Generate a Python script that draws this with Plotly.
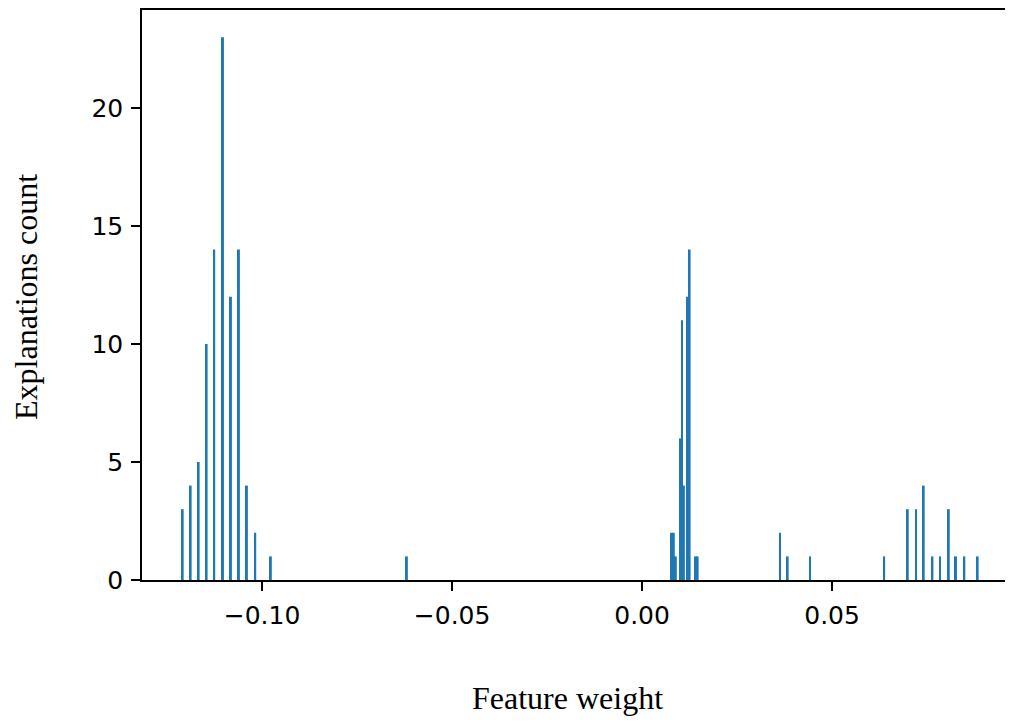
import plotly.graph_objects as go

# Histogram bins (centre of bin, feature weight) and counts
bin_centers = [-0.1209, -0.1188, -0.1167, -0.1146, -0.1126, -0.1103, -0.1082,
               -0.1061, -0.1040, -0.1018, -0.0977, -0.0619,
               0.00782, 0.00834, 0.00887, 0.01000, 0.01050, 0.01100, 0.01197,
               0.01250, 0.01408, 0.01461,
               0.0363, 0.0383, 0.0442, 0.0637, 0.0699, 0.0721, 0.0741, 0.0764,
               0.0784, 0.0807, 0.0826, 0.0848, 0.0883]
counts = [3, 4, 5, 10, 14, 23, 12, 14, 4, 2, 1, 1,
          2, 2, 1, 6, 11, 4, 12, 14, 1, 1,
          2, 1, 1, 1, 3, 3, 4, 1, 1, 3, 1, 1, 1]
bin_width = 0.00052

x_ticks = [-0.10, -0.05, 0.00, 0.05]
y_ticks = [0, 5, 10, 15, 20]

fig = go.Figure()
fig.add_trace(go.Bar(
    x=bin_centers, y=counts, width=bin_width,
    marker=dict(color="#1f77b4", line=dict(width=0)),
    showlegend=False,
))

# page body has an 8px margin; keep the page inside the 1013x724 window
W, H = 997, 708
L, T, R, B = 134, 2, 0, 136
pw, ph = W - L - R, H - T - B

tick_font = dict(family="DejaVu Sans", size=25, color="black")
fig.update_layout(
    width=W, height=H,
    margin=dict(l=L, r=R, t=T, b=B, pad=0),
    plot_bgcolor="white", paper_bgcolor="white",
    xaxis=dict(range=[-0.1316, 0.0955], tickvals=x_ticks, tickformat=".2f",
               ticks="outside", ticklen=9, tickwidth=1.5, tickcolor="black",
               ticklabelstandoff=3,
               showline=True, linecolor="black", linewidth=1.5, mirror=True,
               showgrid=False, zeroline=False, tickfont=tick_font),
    yaxis=dict(range=[0, 24.15], tickvals=y_ticks,
               ticks="outside", ticklen=9, tickwidth=1.5, tickcolor="black",
               ticklabelstandoff=3,
               showline=True, linecolor="black", linewidth=1.5, mirror=False,
               showgrid=False, zeroline=False, tickfont=tick_font),
    annotations=[
        dict(text="Feature weight", xref="paper", yref="paper",
             x=(567 - 142) / pw, y=-(698 - 580) / ph,
             xanchor="center", yanchor="middle", showarrow=False,
             font=dict(family="Liberation Serif", size=32, color="black")),
        dict(text="Explanations count", xref="paper", yref="paper",
             x=(26 - 142) / pw, y=(580 - 297) / ph, textangle=-90,
             xanchor="center", yanchor="middle", showarrow=False,
             font=dict(family="Liberation Serif", size=32, color="black")),
    ],
)

fig.write_html("out.html")
